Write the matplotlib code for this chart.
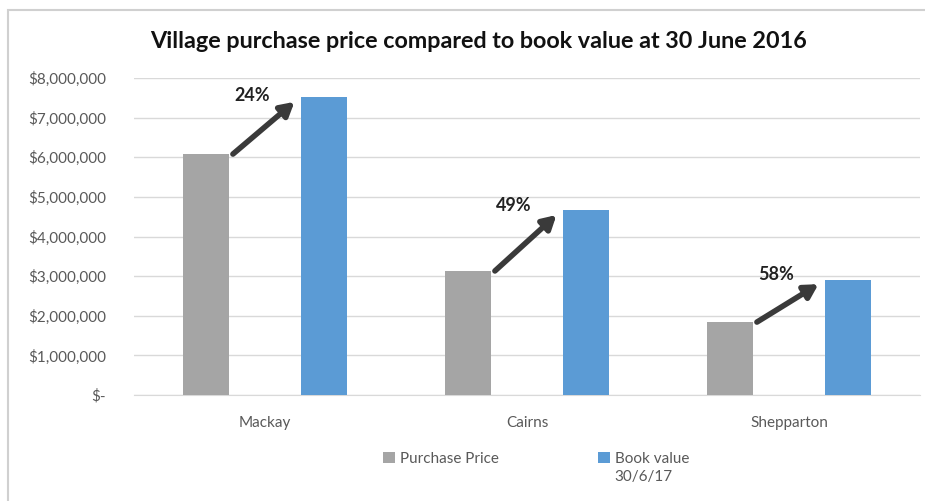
import matplotlib
matplotlib.use("Agg")
import matplotlib.pyplot as plt
from matplotlib.patches import Rectangle
import numpy as np

categories = ["Mackay", "Cairns", "Shepparton"]
purchase_price = [6080000, 3130000, 1840000]
book_value = [7520000, 4670000, 2900000]
pct_labels = ["24%", "49%", "58%"]
yticks = [0, 1000000, 2000000, 3000000, 4000000, 5000000, 6000000, 7000000, 8000000]
ytick_labels = ["$-", "$1,000,000", "$2,000,000", "$3,000,000", "$4,000,000",
                "$5,000,000", "$6,000,000", "$7,000,000", "$8,000,000"]
series_names = ["Purchase Price", "Book value"]
series_name_second_line = "30/6/17"

plt.rcParams['font.family'] = ['Lato', 'DejaVu Sans']

fig = plt.figure(figsize=(9.25, 5.01), dpi=100)
fig.patches.append(Rectangle((8/925, -0.1), 1.0, 1 - 10/501 + 0.1, transform=fig.transFigure,
                             fill=False, edgecolor="#d0d0d0", linewidth=1.5))
ax = fig.add_axes([134/925, 1 - 395/501, 786/925, 317/501])

x = np.arange(len(categories))
bw = 0.175
off = 0.225
gray = "#a5a5a5"
blue = "#5b9bd5"
b1 = ax.bar(x - off, purchase_price, bw, color=gray, label=series_names[0], zorder=3)
b2 = ax.bar(x + off, book_value, bw, color=blue, label=series_names[1], zorder=3)

ax.set_xlim(-0.5, len(categories) - 0.5)
ax.set_ylim(0, 8000000)
ax.set_yticks(yticks)
ax.set_yticklabels(ytick_labels, color="#595959", fontsize=11)
ax.set_xticks(x)
ax.set_xticklabels(categories, color="#595959", fontsize=11)
ax.tick_params(axis="y", length=0, pad=20)
ax.tick_params(axis="x", length=0, pad=15)
ax.grid(axis="y", color="#d9d9d9", linewidth=1, zorder=0)
for s in ["top", "right", "left"]:
    ax.spines[s].set_visible(False)
ax.spines["bottom"].set_color("#d9d9d9")

for i in range(len(categories)):
    x0 = x[i] - off + bw / 2 + 0.015
    y0 = purchase_price[i]
    x1 = x[i] + off - bw / 2 - 0.025
    y1 = book_value[i] - 0.05 * (book_value[i] - purchase_price[i]) - 50000
    ax.annotate("", xy=(x1, y1), xytext=(x0, y0),
                arrowprops=dict(arrowstyle="-|>,head_length=0.8,head_width=0.45",
                                color="#3a3a3a", lw=4, shrinkA=0, shrinkB=0), zorder=4)
    ax.text(x[i] - 0.05, book_value[i] - 0.02 * book_value[i] - 20000, pct_labels[i],
            fontsize=13, fontweight="bold", color="#222222", ha="center", va="bottom", zorder=5)

fig.text(478/925, 1 - 42/501, "Village purchase price compared to book value at 30 June 2016",
         ha="center", va="center", fontsize=16.8, fontweight="bold", color="#111111")

leg = fig.legend(handles=[b1, b2], labels=series_names, loc="upper left",
                 bbox_to_anchor=(369/925, 1 - 438/501), ncol=2, frameon=False,
                 fontsize=11, handlelength=0.8, handleheight=0.8, handletextpad=0.3,
                 columnspacing=6.5, labelcolor="#595959")

fig.canvas.draw()
renderer = fig.canvas.get_renderer()
tb = leg.get_texts()[1].get_window_extent(renderer)
fx, fy = fig.transFigure.inverted().transform((tb.x0, tb.y0))
fig.text(fx, fy - 4/501, series_name_second_line, ha="left", va="top",
         fontsize=11, color="#595959")

fig.savefig("out.png", dpi=100)
